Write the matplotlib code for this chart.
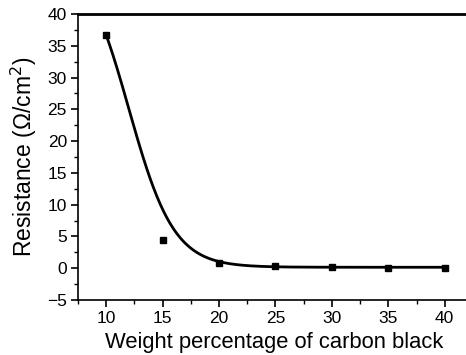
import numpy as np
import matplotlib
matplotlib.use("Agg")
import matplotlib.pyplot as plt
from matplotlib.ticker import MultipleLocator

plt.rcParams['font.family'] = ['Liberation Sans', 'DejaVu Sans']

weight = [10, 15, 20, 25, 30, 35, 40]
resistance = [36.7, 4.4, 0.8, 0.3, 0.15, 0.1, 0.0]

# sigmoidal (Boltzmann) fit parameters
fit_A1 = 50.1
fit_A2 = 0.15
fit_x0 = 12.0
fit_dx = 2.0

fig = plt.figure(figsize=(4.66, 3.55), dpi=100)
ax = fig.add_axes([78/466, 1 - 300/355, 1 - 78/466 + 0.01, (300 - 14)/355])

xf = np.linspace(10, 40, 400)
yf = fit_A2 + (fit_A1 - fit_A2) / (1 + np.exp((xf - fit_x0) / fit_dx))
ax.plot(xf, yf, color='black', lw=2)
ax.plot(weight, resistance, 's', color='black', ms=5)

ax.set_xlim(7.5, 42.3)
ax.set_ylim(-5, 40)
ax.xaxis.set_minor_locator(MultipleLocator(2.5))
ax.yaxis.set_major_locator(MultipleLocator(5))
ax.yaxis.set_minor_locator(MultipleLocator(2.5))
ax.set_xticks([10, 15, 20, 25, 30, 35, 40])
ax.tick_params(which='major', direction='out', length=5, width=1.2, labelsize=12.5, pad=3)
ax.tick_params(which='minor', direction='out', length=3, width=1)
ax.spines['right'].set_visible(False)
for s in ['left', 'bottom']:
    ax.spines[s].set_linewidth(1.2)
ax.spines['top'].set_linewidth(2)

ax.set_xlabel('Weight percentage of carbon black', fontsize=15.8, labelpad=4)
ax.set_ylabel('Resistance (\u03a9/cm$^2$)', fontsize=16.5, labelpad=6)

fig.savefig('out.png', dpi=100)
